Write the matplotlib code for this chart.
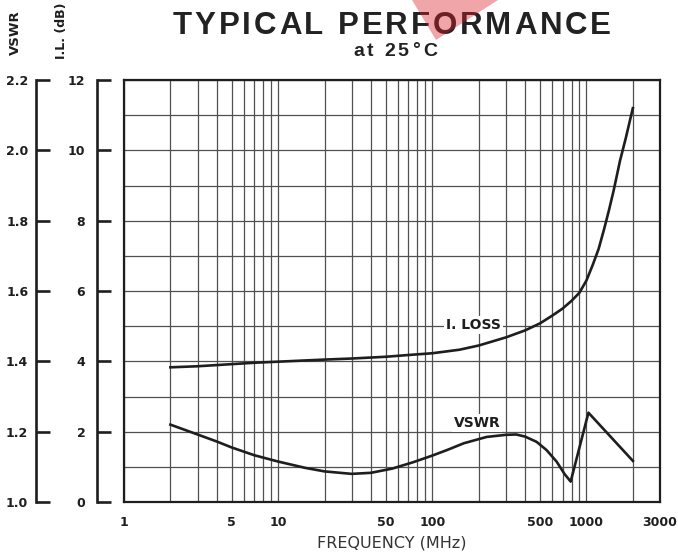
import numpy as np
import matplotlib
matplotlib.use('Agg')
import matplotlib.pyplot as plt
from matplotlib.ticker import LogLocator, NullFormatter, FixedLocator
from matplotlib.patches import Polygon

# 读图得到的数据
freq_il = [2, 3, 5, 7, 10, 20, 30, 50, 70, 100, 150, 200, 300, 400, 500, 600,
           700, 800, 900, 1000, 1100, 1200, 1300, 1400, 1500, 1650, 1800, 2000]
il_db = [3.83, 3.86, 3.92, 3.96, 3.99, 4.05, 4.08, 4.13, 4.18, 4.23, 4.33, 4.45,
         4.68, 4.88, 5.08, 5.3, 5.5, 5.72, 5.95, 6.3, 6.75, 7.2, 7.75, 8.3, 8.85,
         9.7, 10.35, 11.2]

freq_vswr = [2, 3, 4, 5, 7, 10, 15, 20, 30, 40, 55, 75, 100, 125, 160, 225, 300,
             350, 400, 475, 550, 640, 720, 790, 1030, 2000]
vswr = [1.220, 1.192, 1.172, 1.155, 1.133, 1.115, 1.097, 1.087, 1.080, 1.083,
        1.095, 1.113, 1.132, 1.148, 1.167, 1.185, 1.191, 1.192, 1.186, 1.171,
        1.148, 1.115, 1.080, 1.058, 1.254, 1.117]

x_ticks = [1, 5, 10, 50, 100, 500, 1000, 3000]
x_ticklabels = ['1', '5', '10', '50', '100', '500', '1000', '3000']
il_ticks = [0, 2, 4, 6, 8, 10, 12]
vswr_ticks = [1.0, 1.2, 1.4, 1.6, 1.8, 2.0, 2.2]

ink = '#1e1e1e'
W, H = 678, 556
fig = plt.figure(figsize=(W / 100, H / 100), dpi=100)
rect = [124 / W, (H - 502) / H, 536 / W, 422 / H]


def spaced_text(s, x0, x1, yc, space_px, **kw):
    # 字间距拉开的标题, 按像素左右边界均匀排开
    r = fig.canvas.get_renderer()
    widths = []
    for ch in s:
        if ch == ' ':
            widths.append(space_px)
            continue
        t = fig.text(0, 0, ch, **kw)
        widths.append(t.get_window_extent(r).width)
        t.remove()
    gap = (x1 - x0 - sum(widths)) / (len(s) - 1)
    x = x0
    for ch, w in zip(s, widths):
        if ch != ' ':
            fig.text(x / W, 1 - yc / H, ch, ha='left', va='center', **kw)
        x += w + gap


# 主图: 网格 + 插损曲线
ax = fig.add_axes(rect)
ax.set_xscale('log')
ax.set_xlim(1, 3000)
ax.set_ylim(0, 12)
ax.xaxis.set_major_locator(FixedLocator(x_ticks))
ax.set_xticklabels(x_ticklabels)
ax.xaxis.set_minor_locator(LogLocator(base=10, subs=np.arange(1, 10), numticks=20))
ax.xaxis.set_minor_formatter(NullFormatter())
ax.set_yticks(il_ticks)
ax.set_yticks(np.arange(0, 13, 1), minor=True)
ax.set_yticklabels([])
ax.tick_params(which='both', length=0)
ax.tick_params(axis='x', pad=10, labelsize=9, colors=ink)
for lab in ax.get_xticklabels():
    lab.set_fontweight('bold')
ax.grid(which='both', color='#505050', linewidth=0.9)
for s in ax.spines.values():
    s.set_linewidth(1.6)
    s.set_color(ink)
ax.plot(freq_il, il_db, color=ink, linewidth=1.9, zorder=3)
ax.text(186, 5.03, 'I. LOSS', fontsize=10, fontweight='bold', color=ink,
        ha='center', va='center', zorder=4,
        bbox=dict(facecolor='white', edgecolor='none', pad=1.5))
ax.set_xlabel('FREQUENCY (MHz)', fontsize=11.5, color='#333333', labelpad=5)

# I.L. 轴
ax_il = fig.add_axes(rect, facecolor='none')
ax_il.set_ylim(0, 12)
ax_il.set_yticks(il_ticks)
ax_il.set_xticks([])
for k in ['top', 'right', 'bottom']:
    ax_il.spines[k].set_visible(False)
ax_il.spines['left'].set_position(('outward', 19.4))
ax_il.spines['left'].set_linewidth(1.9)
ax_il.spines['left'].set_color(ink)
ax_il.tick_params(axis='y', direction='in', length=10, width=1.9, pad=8.5,
                  labelsize=9, colors=ink)
for lab in ax_il.get_yticklabels():
    lab.set_fontweight('bold')

# VSWR 轴 + 曲线
ax_vs = fig.add_axes(rect, facecolor='none')
ax_vs.set_xscale('log')
ax_vs.set_xlim(1, 3000)
ax_vs.set_ylim(1.0, 2.2)
ax_vs.set_yticks(vswr_ticks)
ax_vs.set_yticklabels(['%.1f' % v for v in vswr_ticks])
ax_vs.set_xticks([])
ax_vs.set_xticks([], minor=True)
for k in ['top', 'right', 'bottom']:
    ax_vs.spines[k].set_visible(False)
ax_vs.spines['left'].set_position(('outward', 63.4))
ax_vs.spines['left'].set_linewidth(1.9)
ax_vs.spines['left'].set_color(ink)
ax_vs.tick_params(axis='y', direction='in', length=10, width=1.9, pad=5.5,
                  labelsize=9, colors=ink)
for lab in ax_vs.get_yticklabels():
    lab.set_fontweight('bold')
ax_vs.plot(freq_vswr, vswr, color=ink, linewidth=1.9, zorder=3, clip_on=False)
ax_vs.text(195, 1.224, 'VSWR', fontsize=10, fontweight='bold', color=ink,
           ha='center', va='center', zorder=4,
           bbox=dict(facecolor='white', edgecolor='none', pad=1.5))

# 标题和轴名
title_kw = dict(fontsize=22.5, fontweight='bold', color='#222222',
                family='Liberation Sans')
spaced_text('TYPICAL PERFORMANCE', 173, 611, 26, 9, **title_kw)
sub_kw = dict(fontsize=14, fontweight='bold', color='#222222',
              family='Liberation Sans')
spaced_text('at 25°C', 353, 437, 51, 4, **sub_kw)
fig.text(15 / W, 1 - 33 / H, 'VSWR', fontsize=9.5, fontweight='bold',
         color=ink, rotation=90, ha='center', va='center')
fig.text(62 / W, 1 - 31 / H, 'I.L. (dB)', fontsize=9, fontweight='bold',
         color=ink, rotation=90, ha='center', va='center')

# 顶部的粉色三角
tri = Polygon([(412 / W, 1.0), (498 / W, 1.0), (436 / W, 1 - 40 / H)],
              closed=True, transform=fig.transFigure, facecolor=(0.86, 0.12, 0.16),
              alpha=0.4, edgecolor='none', zorder=10)
fig.patches.append(tri)

fig.savefig('out.png', dpi=100)
